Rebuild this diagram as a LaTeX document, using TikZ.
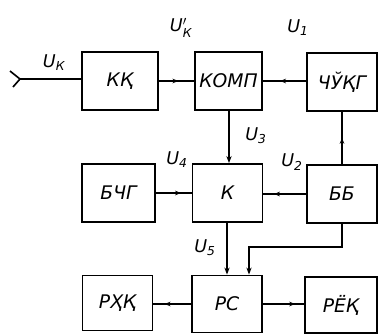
\documentclass[tikz,border=0pt]{standalone}
\usepackage{amsmath}
\usepackage{fontspec}
\setmainfont{DejaVu Sans}
\usepackage{tikz}
\usetikzlibrary{arrows.meta,decorations.markings}

\tikzset{
  blok/.style={draw, line width=1.6pt, minimum width=2.1cm, minimum height=1.74cm,
    inner sep=0pt, font=\fontsize{16}{18}\selectfont\itshape},
  lbl/.style={font=\fontsize{15}{17}\selectfont\itshape},
  arrat/.style={postaction={decorate, decoration={markings,
    mark=at position #1 with {\arrow{Stealth[length=5pt,width=4pt]}}}}}
}

\begin{document}
\begin{tikzpicture}[x=0.03cm, y=-0.03cm, >={Stealth[length=6pt,width=4.5pt]}, line width=1pt]
\useasboundingbox (0,0) rectangle (379,334);

% blocks
\node[blok, minimum width=2.28cm] (kk) at (120,81) {КҚ};
\node[blok, minimum width=2.01cm] (komp) at (228.5,81) {КОМП};
\node[blok] (chukg) at (342,82) {ЧЎҚГ};
\node[blok, minimum width=2.19cm] (bchg) at (118.5,193) {БЧГ};
\node[blok] (k) at (227.5,193) {К};
\node[blok] (bb) at (342,194) {ББ};
\node[blok, minimum height=1.65cm] (rhk) at (117.5,303) {РҲҚ};
\node[blok, minimum height=1.71cm] (rs) at (227,304) {РС};
\node[blok, minimum width=2.16cm, minimum height=1.68cm] (rek) at (341,305) {РЁҚ};

% antenna input
\coordinate (ant) at (20,79);
\draw (ant) -- (kk.west |- ant);
\draw[line width=1.4pt] (10,71) -- (ant) -- (13,87);

% connectors
\draw[arrat=0.55] (kk.east |- komp) -- (komp.west);
\draw[arrat=0.6] (chukg.west |- komp) -- (komp.east);
\draw[->] (komp.south -| 229,0) -- (k.north -| 229,0);
\draw[arrat=0.5] (bb.north) -- (chukg.south);
\draw[arrat=0.7] (bchg.east |- k) -- (k.west);
\draw[arrat=0.75] (bb.west) -- (k.east |- bb);
\draw[->] (k.south -| 227,0) -- (rs.north -| 227,0);
\coordinate (bend) at (342,247);
\draw[->] (bb.south) -- (bend) -- (249,247) -- (rs.north -| 249,0);
\draw[arrat=0.7] (rs.west) -- (rhk.east |- rs);
\draw[arrat=0.78] (rs.east) -- (rek.west |- rs);

% labels
\node[lbl] at (54,63) {\textit{U}$_{\textit{К}}$};
\node[lbl] at (181,28) {\textit{U}$'_{\textit{К}}$};
\node[lbl] at (298,28) {\textit{U}$_{\textit{1}}$};
\node[lbl] at (256,136) {\textit{U}$_{\textit{3}}$};
\node[lbl] at (177,160) {\textit{U}$_{\textit{4}}$};
\node[lbl] at (292,162) {\textit{U}$_{\textit{2}}$};
\node[lbl] at (205,248) {\textit{U}$_{\textit{5}}$};
\end{tikzpicture}
\end{document}
